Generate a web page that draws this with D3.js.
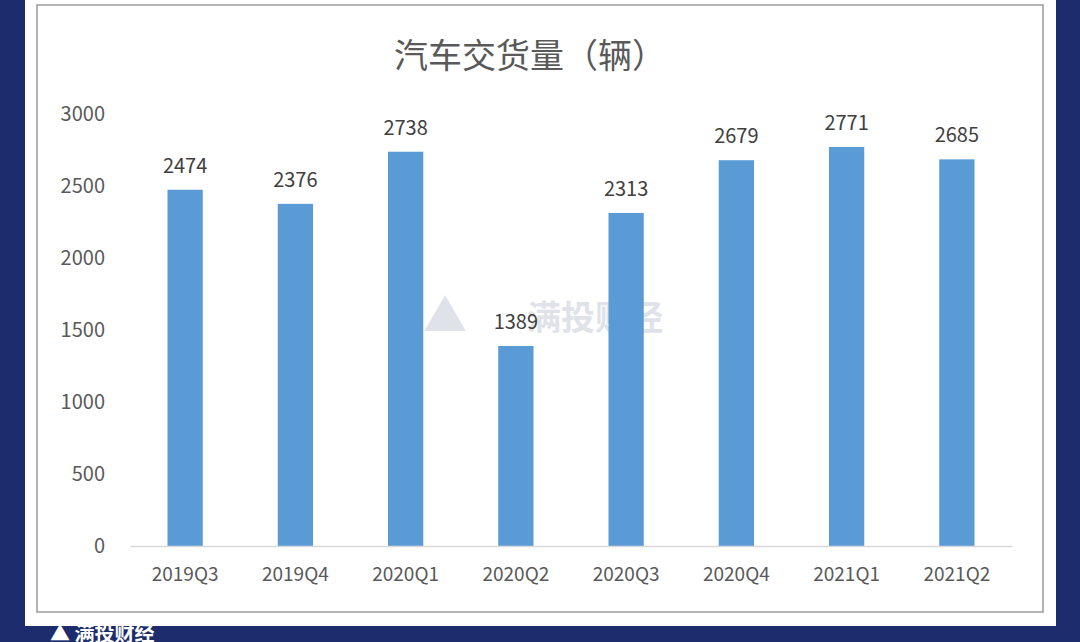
<!DOCTYPE html>
<html><head><meta charset="utf-8">
<script src="https://cdn.jsdelivr.net/npm/d3@7/dist/d3.min.js"></script>
<style>body{margin:0;background:#1c2c6c;}svg{display:block}</style>
</head><body>
<svg id="c" width="1080" height="642"></svg>
<script>
const categories=["2019Q3","2019Q4","2020Q1","2020Q2","2020Q3","2020Q4","2021Q1","2021Q2"];
const values=[2474,2376,2738,1389,2313,2679,2771,2685];
const yTicks=[0,500,1000,1500,2000,2500,3000];
const title="汽车交货量（辆）";
const svg=d3.select("#c");
const font="'Noto Sans CJK SC','Noto Sans',sans-serif";
svg.append("rect").attr("width",1080).attr("height",642).attr("fill","#1c2c6c");
svg.append("rect").attr("x",25).attr("y",0).attr("width",1031).attr("height",626).attr("fill","#fff");
svg.append("rect").attr("x",37).attr("y",5).attr("width",1006).attr("height",607).attr("fill","#fff").attr("stroke","#9a9a9a").attr("stroke-width",1.5);
const x=d3.scaleBand().domain(categories).range([130,1012]).paddingInner(0.68).paddingOuter(0.34);
const y=d3.scaleLinear().domain([0,3000]).range([546,114]);
svg.append("text").attr("x",530).attr("y",68).attr("text-anchor","middle").attr("font-family",font).attr("font-size",34).attr("fill","#595959").text(title);
svg.append("text").attr("x",595).attr("y",330).attr("text-anchor","middle").attr("font-family",font).attr("font-size",34).attr("font-weight","bold").attr("fill","#c8ccd8").attr("opacity",0.55).text("满投财经");
svg.append("text").attr("x",445).attr("y",332).attr("text-anchor","middle").attr("font-family",font).attr("font-size",44).attr("font-weight","bold").attr("fill","#c8ccd8").attr("opacity",0.55).text("▲");
const g=svg.append("g");
g.selectAll("rect.b").data(values).join("rect").attr("x",(d,i)=>x(categories[i])).attr("width",x.bandwidth()).attr("y",d=>y(d)).attr("height",d=>y(0)-y(d)).attr("fill","#5b9bd5");
g.selectAll("text.v").data(values).join("text").attr("x",(d,i)=>x(categories[i])+x.bandwidth()/2).attr("y",d=>y(d)-17).attr("text-anchor","middle").attr("font-family",font).attr("font-size",20).attr("fill","#404040").text(d=>d);
const ya=svg.append("g").attr("transform","translate(108,0)").call(d3.axisLeft(y).tickValues(yTicks).tickSize(0).tickFormat(d3.format("d")));
ya.select(".domain").remove();
ya.selectAll("text").attr("font-family",font).attr("font-size",20).attr("fill","#595959");
const xa=svg.append("g").attr("transform","translate(0,546)").call(d3.axisBottom(x).tickSize(0).tickPadding(22));
xa.select(".domain").attr("stroke","#d9d9d9").attr("stroke-width",1.5);
xa.selectAll("text").attr("font-family",font).attr("font-size",19).attr("fill","#595959");
svg.append("text").attr("x",50).attr("y",641).attr("font-family",font).attr("font-size",20).attr("font-weight","bold").attr("fill","#fff").text("▲ 满投财经");
</script></body></html>
